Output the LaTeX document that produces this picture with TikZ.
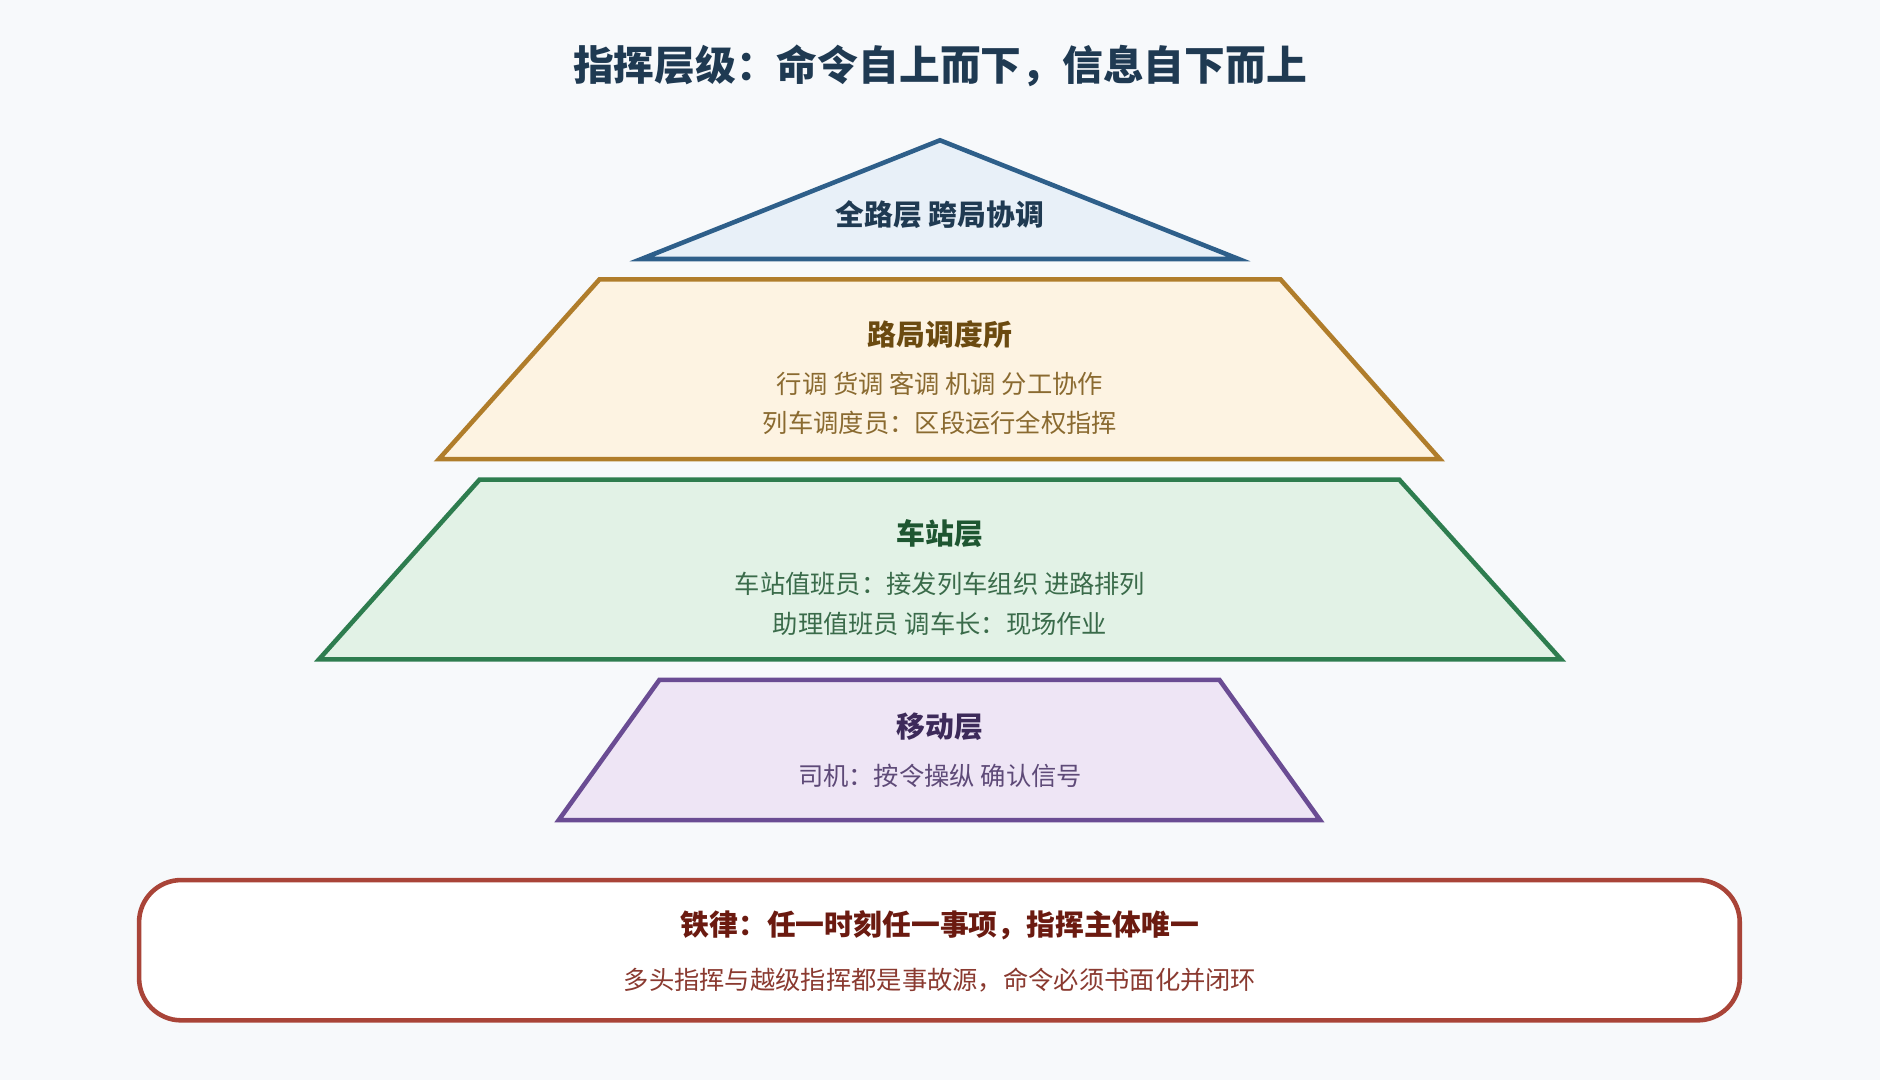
\documentclass[tikz,border=0pt]{standalone}
\usepackage{fontspec}
\setmainfont{Noto Sans CJK SC}
\usetikzlibrary{positioning}
\definecolor{bgc}{HTML}{F7F9FB}
\definecolor{inkc}{HTML}{1F3A52}
\definecolor{blueL}{HTML}{2E5F8A}\definecolor{blueF}{HTML}{E8F0F8}
\definecolor{orgL}{HTML}{B07D2B}\definecolor{orgF}{HTML}{FDF3E2}
\definecolor{orgT}{HTML}{6B4A10}\definecolor{orgB}{HTML}{8A6A30}
\definecolor{grnL}{HTML}{2E7D4F}\definecolor{grnF}{HTML}{E2F2E6}
\definecolor{grnT}{HTML}{1E5631}\definecolor{grnB}{HTML}{3A6B4A}
\definecolor{purL}{HTML}{6A4C93}\definecolor{purF}{HTML}{EEE5F5}
\definecolor{purT}{HTML}{3D2A5A}\definecolor{purB}{HTML}{5E4A78}
\definecolor{redL}{HTML}{A94438}\definecolor{redT}{HTML}{6B1A10}\definecolor{redB}{HTML}{8A3A30}
\tikzset{
  layer/.style={line width=1.3pt, line join=miter},
  head/.style={font=\fontsize{8.2}{10}\selectfont\bfseries, inner sep=0pt},
  body/.style={font=\fontsize{7.2}{9}\selectfont, inner sep=0pt}
}
\begin{document}
\begin{tikzpicture}[x=0.01199cm,y=-0.01199cm]
  \fill[bgc] (0,0) rectangle (1568,901);
  \useasboundingbox (0,0) rectangle (1568,901);
  \node[font=\fontsize{11.6}{14}\selectfont\bfseries, text=inkc] (title) at (784,55) {指挥层级：命令自上而下，信息自下而上};
  % layers
  \draw[layer, draw=blueL, fill=blueF] (784,117) -- (1033,216) -- (535,216) -- cycle;
  \node[head, text=inkc] (top) at (784,179) {全路层 跨局协调};
  \draw[layer, draw=orgL, fill=orgF] (500,233) -- (1068,233) -- (1201,383) -- (366,383) -- cycle;
  \node[head, text=orgT] (bureau) at (784,279) {路局调度所};
  \node[body, text=orgB] (bureau1) at (784,320) {行调 货调 客调 机调 分工协作};
  \node[body, text=orgB] (bureau2) at (784,353) {列车调度员：区段运行全权指挥};
  \draw[layer, draw=grnL, fill=grnF] (400,400) -- (1167,400) -- (1302,550) -- (266,550) -- cycle;
  \node[head, text=grnT] (station) at (784,445) {车站层};
  \node[body, text=grnB] (station1) at (784,487) {车站值班员：接发列车组织 进路排列};
  \node[body, text=grnB] (station2) at (784,520) {助理值班员 调车长：现场作业};
  \draw[layer, draw=purL, fill=purF] (550,567) -- (1017,567) -- (1101,684) -- (466,684) -- cycle;
  \node[head, text=purT] (mobile) at (784,606) {移动层};
  \node[body, text=purB] (mobile1) at (784,647) {司机：按令操纵 确认信号};
  % rule box
  \draw[layer, draw=redL, fill=white, rounded corners=12pt] (116,734) rectangle (1451,851);
  \node[head, text=redT] (rule) at (784,772) {铁律：任一时刻任一事项，指挥主体唯一};
  \node[body, text=redB] (rule1) at (784,817) {多头指挥与越级指挥都是事故源，命令必须书面化并闭环};
\end{tikzpicture}
\end{document}
